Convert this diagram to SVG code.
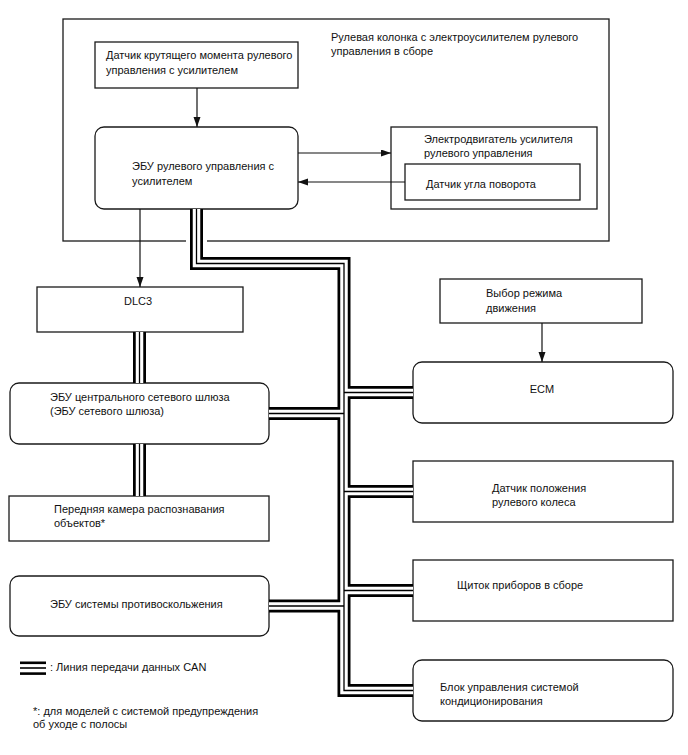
<svg xmlns="http://www.w3.org/2000/svg" width="688" height="755" viewBox="0 0 688 755">
<style>
  .box{fill:#fff;stroke:#1a1a1a;stroke-width:1.3}
  .frame{fill:none;stroke:#1a1a1a;stroke-width:1.3}
  .t{font-family:"Liberation Sans",Arial,sans-serif;font-size:11px;fill:#111}
  .ln{fill:none;stroke:#111;stroke-width:1.2}
  .busB{fill:none;stroke:#000;stroke-width:13;stroke-linejoin:miter;stroke-linecap:butt}
  .busW{fill:none;stroke:#fff;stroke-width:7.5;stroke-linejoin:miter;stroke-linecap:butt}
  .busC{fill:none;stroke:#000;stroke-width:1.3;stroke-linejoin:miter;stroke-linecap:butt}
</style>
<defs>
  <marker id="ah" markerUnits="userSpaceOnUse" markerWidth="11" markerHeight="8" refX="10" refY="3.5" orient="auto">
    <path d="M0,0 L10,3.5 L0,7 z" fill="#111"/>
  </marker>
  <path id="bus" d="M196.5,209 V263.5 H344 V690.5 H413 M344,392.5 H413 M344,491.5 H413 M344,590.5 H413 M269,413.5 H344 M269,606 H344 M139.5,332 V383 M139.5,444 V496"/>
</defs>
<rect width="688" height="755" fill="#fff"/>

<g id="steering-column-frame">
  <rect class="frame" x="63" y="19" width="546" height="222"/>
  <text class="t" x="331" y="41">Рулевая колонка с электроусилителем рулевого</text>
  <text class="t" x="331" y="55">управления в сборе</text>
</g>

<g id="torque-sensor">
  <rect class="box" x="95" y="42" width="203" height="46"/>
  <text class="t" x="106" y="59">Датчик крутящего момента рулевого</text>
  <text class="t" x="106" y="74">управления с усилителем</text>
</g>

<g id="eps-ecu">
  <rect class="box" x="95" y="127" width="203" height="82" rx="9"/>
  <text class="t" x="132" y="170">ЭБУ рулевого управления с</text>
  <text class="t" x="132" y="185">усилителем</text>
</g>

<g id="eps-motor">
  <rect class="box" x="391" y="127" width="206" height="82"/>
  <text class="t" x="424" y="143">Электродвигатель усилителя</text>
  <text class="t" x="424" y="157">рулевого управления</text>
</g>

<g id="rotation-angle-sensor">
  <rect class="box" x="405" y="164" width="175" height="36"/>
  <text class="t" x="426" y="188">Датчик угла поворота</text>
</g>

<g id="dlc3">
  <rect class="box" x="37" y="287" width="206" height="45"/>
  <text class="t" x="124" y="305">DLC3</text>
</g>

<g id="gateway-ecu">
  <rect class="box" x="10" y="383" width="259" height="61" rx="9"/>
  <text class="t" x="50" y="401">ЭБУ центрального сетевого шлюза</text>
  <text class="t" x="50" y="415">(ЭБУ сетевого шлюза)</text>
</g>

<g id="front-camera">
  <rect class="box" x="9" y="496" width="260" height="45"/>
  <text class="t" x="54" y="513">Передняя камера распознавания</text>
  <text class="t" x="54" y="527">объектов*</text>
</g>

<g id="skid-control-ecu">
  <rect class="box" x="10" y="576" width="259" height="60" rx="9"/>
  <text class="t" x="50" y="608">ЭБУ системы противоскольжения</text>
</g>

<g id="drive-mode-select">
  <rect class="box" x="440" y="279" width="202" height="44"/>
  <text class="t" x="486" y="297">Выбор режима</text>
  <text class="t" x="486" y="312">движения</text>
</g>

<g id="ecm">
  <rect class="box" x="413" y="362" width="260" height="61" rx="9"/>
  <text class="t" x="542" y="393" text-anchor="middle">ECM</text>
</g>

<g id="steering-wheel-position-sensor">
  <rect class="box" x="413" y="461" width="260" height="61"/>
  <text class="t" x="492" y="492">Датчик положения</text>
  <text class="t" x="492" y="506">рулевого колеса</text>
</g>

<g id="combination-meter">
  <rect class="box" x="413" y="560" width="260" height="61"/>
  <text class="t" x="457" y="589">Щиток приборов в сборе</text>
</g>

<g id="ac-amplifier">
  <rect class="box" x="413" y="660" width="260" height="61" rx="9"/>
  <text class="t" x="440" y="691">Блок управления системой</text>
  <text class="t" x="440" y="705">кондиционирования</text>
</g>

<g id="connectors">
  <line class="ln" x1="197" y1="88" x2="197" y2="127" marker-end="url(#ah)"/>
  <line class="ln" x1="298" y1="153" x2="391" y2="153" marker-end="url(#ah)"/>
  <line class="ln" x1="405" y1="182" x2="298" y2="182" marker-end="url(#ah)"/>
  <line class="ln" x1="140" y1="209" x2="140" y2="287" marker-end="url(#ah)"/>
  <line class="ln" x1="542" y1="323" x2="542" y2="362" marker-end="url(#ah)"/>
  <rect x="186" y="238" width="21" height="6" fill="#fff"/>
  <use href="#bus" class="busB"/>
  <use href="#bus" class="busW"/>
  <use href="#bus" class="busC"/>
</g>

<g id="legend">
  <line x1="20" y1="662.8" x2="46" y2="662.8" stroke="#000" stroke-width="2.6"/>
  <line x1="20" y1="668" x2="46" y2="668" stroke="#000" stroke-width="1.6"/>
  <line x1="20" y1="673.6" x2="46" y2="673.6" stroke="#000" stroke-width="2.6"/>
  <text class="t" x="50" y="671">: Линия передачи данных CAN</text>
  <text class="t" x="33" y="715">*: для моделей с системой предупреждения</text>
  <text class="t" x="33" y="728">об уходе с полосы</text>
</g>
</svg>
